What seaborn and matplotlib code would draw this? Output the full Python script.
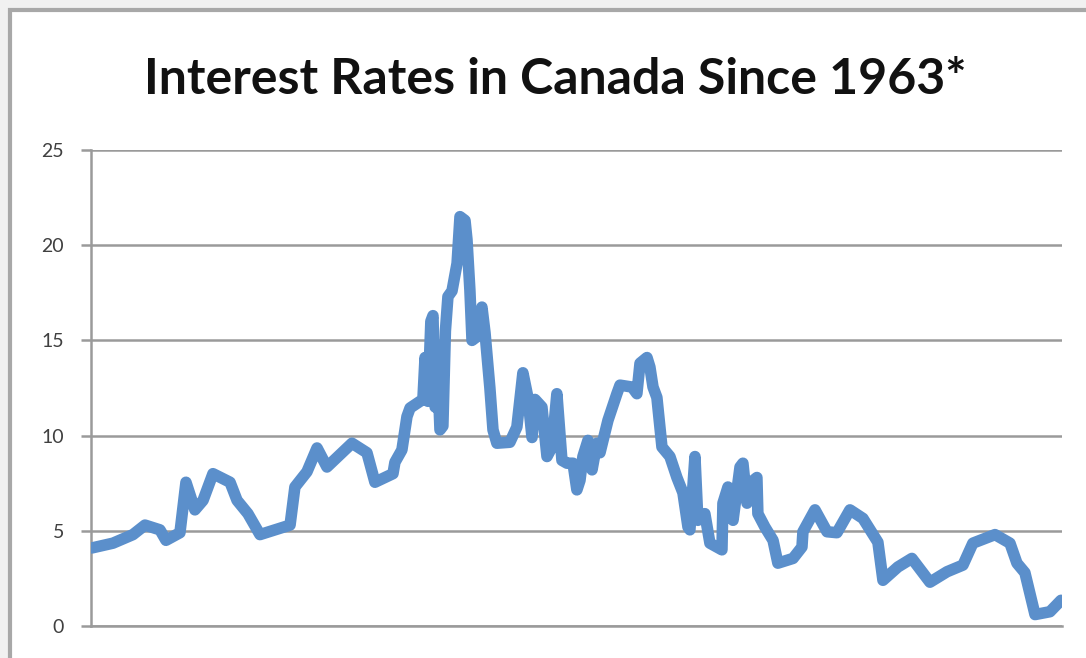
import matplotlib
matplotlib.use("Agg")
import matplotlib.pyplot as plt
import seaborn as sns
import pandas as pd
from matplotlib.patches import Rectangle

title = "Interest Rates in Canada Since 1963*"

years = [1963.05, 1964.13, 1965.16, 1965.78, 1966.55, 1966.86, 1967.58, 1967.89,
         1968.35, 1968.77, 1969.28, 1970.16, 1970.52, 1971.08, 1971.70, 1973.25,
         1973.50, 1974.12, 1974.64, 1975.15, 1976.44, 1977.21, 1977.62, 1978.55,
         1978.65, 1979.01, 1979.27, 1979.43, 1980.09, 1980.20, 1980.35, 1980.50,
         1980.61, 1980.72, 1980.82, 1980.97, 1981.12, 1981.25, 1981.38, 1981.59,
         1981.85, 1982.00, 1982.26, 1982.36, 1982.51, 1982.62, 1982.88, 1983.13,
         1983.29, 1983.54, 1983.70, 1983.90, 1984.57, 1984.93, 1985.24, 1985.50,
         1985.71, 1985.86, 1986.22, 1986.48, 1986.74, 1986.99, 1987.25, 1987.51,
         1987.82, 1988.02, 1988.18, 1988.33, 1988.59, 1988.80, 1989.05, 1989.21,
         1989.62, 1990.08, 1990.24, 1990.86, 1991.11, 1991.27, 1991.63, 1991.78,
         1991.94, 1992.14, 1992.40, 1992.81, 1993.17, 1993.48, 1993.74, 1993.84,
         1994.10, 1994.25, 1994.61, 1994.87, 1995.49, 1995.54, 1995.80, 1996.06,
         1996.42, 1996.57, 1996.78, 1996.93, 1997.29, 1997.34, 1997.70, 1998.12,
         1998.37, 1999.15, 1999.61, 1999.66, 2000.28, 2000.90, 2001.41, 2002.08,
         2002.75, 2003.52, 2003.78, 2004.55, 2005.27, 2006.20, 2007.08, 2007.90,
         2008.41, 2009.55, 2010.32, 2010.68, 2011.09, 2011.61, 2012.38, 2012.95]

rates = [4.1, 4.35, 4.8, 5.3, 5.05, 4.5, 4.9, 7.55,
         6.1, 6.6, 8.0, 7.55, 6.6, 5.9, 4.8, 5.3,
         7.3, 8.1, 9.35, 8.35, 9.6, 9.1, 7.55, 8.0,
         8.6, 9.25, 11.0, 11.45, 11.9, 14.1, 11.8, 16.0,
         16.3, 11.5, 14.2, 10.3, 10.5, 15.5, 17.3, 17.6,
         19.05, 21.5, 21.3, 20.3, 17.65, 15.0, 15.2, 16.75,
         15.4, 12.5, 10.3, 9.6, 9.65, 10.45, 13.3, 12.0,
         9.9, 11.9, 11.5, 8.9, 9.4, 12.2, 8.7, 8.55,
         8.55, 7.15, 7.65, 8.9, 9.75, 8.2, 9.6, 9.1,
         10.8, 12.2, 12.65, 12.55, 12.2, 13.8, 14.1, 13.6,
         12.55, 12.0, 9.4, 8.9, 7.8, 7.0, 5.2, 5.05,
         8.9, 5.55, 5.9, 4.35, 4.0, 6.45, 7.3, 5.55,
         8.35, 8.55, 6.45, 7.5, 7.8, 5.9, 5.2, 4.5,
         3.3, 3.55, 4.15, 4.95, 6.1, 4.95, 4.9, 6.1,
         5.65, 4.4, 2.4, 3.1, 3.55, 2.3, 2.85, 3.2,
         4.35, 4.8, 4.35, 3.3, 2.8, 0.6, 0.75, 1.35]

yticks = [0, 5, 10, 15, 20, 25]

df = pd.DataFrame({"year": years, "rate": rates})

sns.set_theme(style="white")
plt.rcParams['font.family'] = ['Lato', 'DejaVu Sans']

W, H = 1086, 658
fig = plt.figure(figsize=(W / 100, H / 100), dpi=100, facecolor="#f1f1f1")

# chart frame (behind everything)
frame = Rectangle((10 / W, -0.05), 1.2, (H - 10) / H + 0.05,
                  transform=fig.transFigure, facecolor="white",
                  edgecolor="#a8a8a8", linewidth=3)
frame.set_zorder(-10)
fig.patches.append(frame)

ax = fig.add_axes([91 / W, (H - 626) / H, (1062 - 91) / W, (626 - 150) / H])
ax.set_zorder(1)
ax.set_facecolor("none")

sns.lineplot(data=df, x="year", y="rate", ax=ax, color="#5b8fcb",
             linewidth=8.3, solid_joinstyle="round", solid_capstyle="round",
             zorder=3)

ax.set_xlim(1963.0, 2013.0)
ax.set_ylim(0, 25)
ax.set_yticks(yticks)
ax.set_yticklabels([str(t) for t in yticks])
ax.set_xticks([])
ax.set_xlabel("")
ax.set_ylabel("")
ax.grid(axis="y", color="#9a9a9a", linewidth=1.8)
ax.grid(axis="x", visible=False)
for s in ["top", "right"]:
    ax.spines[s].set_visible(False)
ax.spines["left"].set_color("#9a9a9a")
ax.spines["left"].set_linewidth(1.8)
ax.spines["bottom"].set_color("#9a9a9a")
ax.spines["bottom"].set_linewidth(1.8)
ax.tick_params(axis="y", which="both", left=True, length=7.5, width=1.8,
               color="#9a9a9a", pad=12, labelsize=14, labelcolor="#404040")

fig.text(555 / W, (H - 79) / H, title, ha="center", va="center",
         fontsize=36, fontweight="bold", color="#111111")

fig.savefig("out.png", dpi=100, facecolor=fig.get_facecolor())
